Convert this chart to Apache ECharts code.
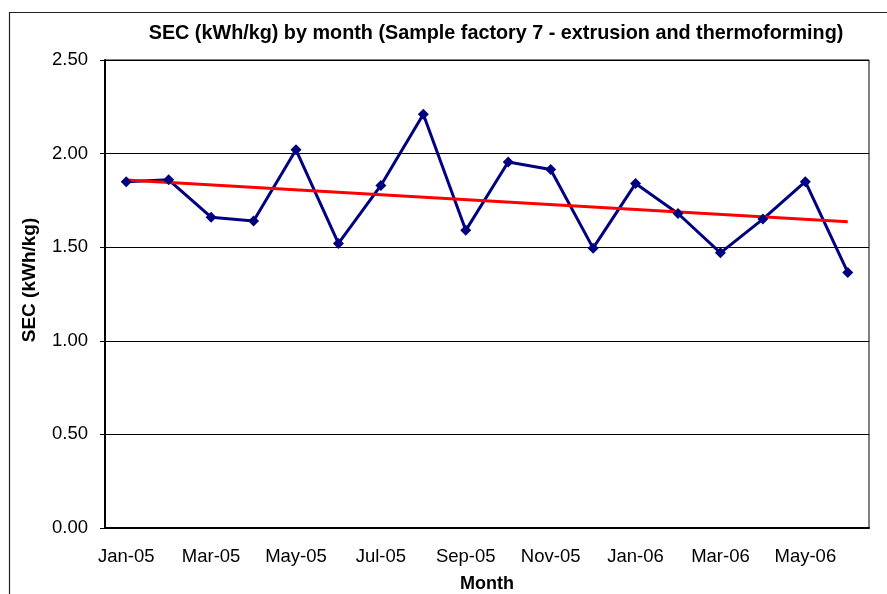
<!DOCTYPE html>
<html>
<head>
<meta charset="utf-8">
<script src="https://cdn.jsdelivr.net/npm/echarts@6/dist/echarts.min.js"></script>
<style>
html,body{margin:0;padding:0;background:#fff;}
#chart{width:887px;height:594px;}
</style>
</head>
<body>
<div id="chart"></div>
<script>
const months = ['Jan-05','Feb-05','Mar-05','Apr-05','May-05','Jun-05','Jul-05','Aug-05','Sep-05','Oct-05','Nov-05','Dec-05','Jan-06','Feb-06','Mar-06','Apr-06','May-06','Jun-06'];
const secValues = [1.85,1.86,1.66,1.64,2.02,1.52,1.83,2.21,1.59,1.955,1.915,1.495,1.84,1.68,1.47,1.65,1.85,1.365];
const trendEnds = [1.859, 1.636];
const yTicks = [0, 0.5, 1.0, 1.5, 2.0, 2.5];

const trendData = months.map((m, i) => i === 0 ? trendEnds[0] : (i === months.length - 1 ? trendEnds[1] : null));

const font = 'Liberation Sans, Arial, sans-serif';
const chart = echarts.init(document.getElementById('chart'), null, {renderer: 'canvas'});
chart.setOption({
  animation: false,
  backgroundColor: '#fff',
  title: {
    text: 'SEC (kWh/kg) by month (Sample factory 7 - extrusion and thermoforming)',
    left: 491, top: 19, textAlign: 'center',
    textStyle: {fontFamily: font, fontSize: 19.8, fontWeight: 'bold', color: '#000'}
  },
  graphic: [{
    type: 'rect', shape: {x: 9.5, y: 12.5, width: 1000, height: 700},
    style: {fill: 'none', stroke: '#222', lineWidth: 1.2}, silent: true, z: -1
  }],
  grid: {left: 105, right: 18, top: 60, bottom: 66, show: true, borderColor: '#000', borderWidth: 1,
         containLabel: false, outerBoundsMode: 'none'},
  xAxis: {
    type: 'category', data: months, boundaryGap: true,
    name: 'Month', nameLocation: 'middle', nameGap: 47,
    nameTextStyle: {fontFamily: font, fontSize: 18, fontWeight: 'bold', color: '#000'},
    axisLine: {lineStyle: {color: '#000', width: 2}},
    axisTick: {inside: true, length: 5, interval: 1, lineStyle: {color: '#000'}},
    axisLabel: {interval: 1, margin: 19, fontFamily: font, fontSize: 18.5, color: '#000'},
    splitLine: {show: false}
  },
  yAxis: {
    type: 'value', min: yTicks[0], max: yTicks[yTicks.length - 1], interval: 0.5,
    name: 'SEC (kWh/kg)', nameLocation: 'middle', nameGap: 66,
    nameTextStyle: {fontFamily: font, fontSize: 19, fontWeight: 'bold', color: '#000', padding: [0, 0, 0, 28]},
    axisLine: {show: true, lineStyle: {color: '#000', width: 2}},
    axisTick: {show: true, length: 5, lineStyle: {color: '#000'}},
    axisLabel: {margin: 17, fontFamily: font, fontSize: 18.5, color: '#000', formatter: v => v.toFixed(2)},
    splitLine: {show: true, lineStyle: {color: '#000', width: 1}}
  },
  series: [{
    type: 'line', data: secValues,
    symbol: 'diamond', symbolSize: 11,
    itemStyle: {color: '#000080'},
    lineStyle: {color: '#000080', width: 3}
  }, {
    type: 'line', data: trendData, connectNulls: true,
    symbol: 'none',
    lineStyle: {color: '#ff0000', width: 3}
  }]
});
</script>
</body>
</html>
